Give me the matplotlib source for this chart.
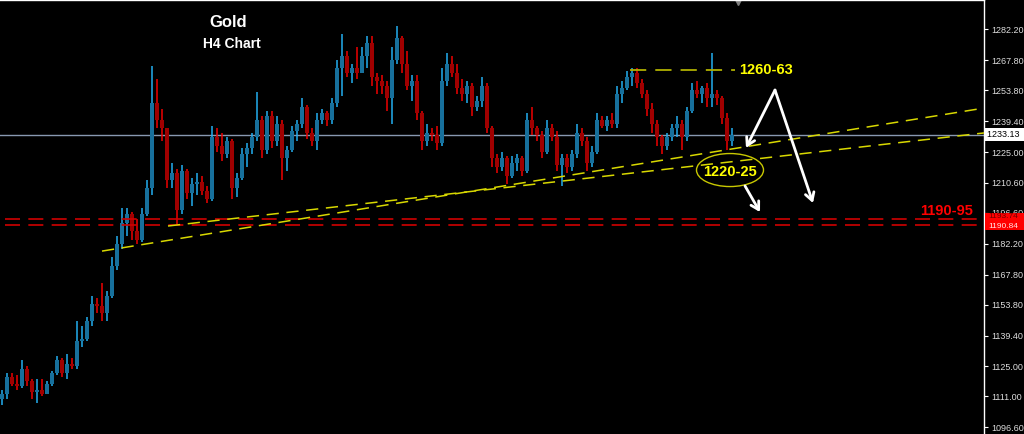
import numpy as np
import matplotlib.pyplot as plt
from matplotlib.patches import Ellipse, Rectangle

plt.rcParams['font.family'] = ['Liberation Sans', 'DejaVu Sans']

# --- Datos: velas H4 del oro (open = cierre anterior) ---
open0 = 1110
closes = [1112, 1120, 1117, 1116, 1124, 1118, 1113, 1114, 1112, 1117,
          1122, 1128, 1122, 1126, 1125, 1137, 1138, 1146, 1154, 1153,
          1150, 1158, 1172, 1182, 1192, 1196, 1188, 1184, 1196, 1208,
          1248, 1240, 1236, 1212, 1215, 1198, 1216, 1206, 1210, 1211,
          1207, 1203, 1232, 1228, 1224, 1230, 1208, 1213, 1224, 1227,
          1232, 1240, 1226, 1242, 1230, 1238, 1222, 1226, 1235, 1238,
          1246, 1234, 1230, 1240, 1243, 1240, 1248, 1264, 1270, 1262,
          1264, 1262, 1270, 1276, 1260, 1258, 1256, 1250, 1268, 1278,
          1266, 1256, 1258, 1243, 1230, 1234, 1233, 1229, 1258, 1266,
          1262, 1255, 1252, 1256, 1246, 1249, 1256, 1236, 1222, 1218,
          1222, 1214, 1220, 1222, 1216, 1240, 1236, 1233, 1225, 1236,
          1232, 1219, 1222, 1218, 1224, 1234, 1230, 1220, 1225, 1240,
          1237, 1240, 1238, 1252, 1255, 1260, 1262, 1257, 1252, 1245,
          1238, 1232, 1228, 1232, 1236, 1238, 1232, 1244, 1254, 1252,
          1255, 1250, 1252, 1250, 1241, 1230, 1233.13]
highs = [1114, 1122, 1122, 1121, 1128, 1125, 1119, 1119, 1119, 1118,
         1123, 1130, 1129, 1131, 1129, 1146, 1144, 1148, 1158, 1157,
         1164, 1160, 1176, 1186, 1199, 1199, 1197, 1194, 1199, 1212,
         1265, 1259, 1245, 1236, 1220, 1217, 1219, 1217, 1213, 1215,
         1214, 1209, 1237, 1236, 1234, 1232, 1231, 1215, 1227, 1229,
         1234, 1253, 1242, 1244, 1244, 1242, 1240, 1228, 1237, 1240,
         1250, 1247, 1236, 1243, 1245, 1244, 1250, 1268, 1280, 1272,
         1266, 1274, 1274, 1279, 1279, 1262, 1261, 1258, 1274, 1284,
         1279, 1272, 1261, 1261, 1244, 1238, 1236, 1237, 1264, 1271,
         1270, 1266, 1259, 1258, 1257, 1251, 1260, 1257, 1237, 1224,
         1225, 1223, 1223, 1224, 1223, 1243, 1246, 1237, 1235, 1240,
         1238, 1235, 1224, 1224, 1226, 1238, 1236, 1232, 1228, 1243,
         1242, 1242, 1243, 1256, 1258, 1263, 1264, 1264, 1259, 1254,
         1248, 1240, 1233, 1234, 1238, 1242, 1240, 1246, 1257, 1258,
         1256, 1257, 1271, 1254, 1251, 1243, 1236]
lows = [1107, 1110, 1116, 1114, 1115, 1116, 1110, 1108, 1111, 1112,
        1116, 1121, 1120, 1119, 1124, 1124, 1134, 1137, 1144, 1150,
        1146, 1146, 1157, 1170, 1180, 1186, 1184, 1182, 1183, 1195,
        1205, 1236, 1230, 1208, 1208, 1191, 1196, 1203, 1200, 1205,
        1205, 1201, 1202, 1225, 1221, 1222, 1203, 1204, 1212, 1218,
        1224, 1230, 1222, 1224, 1227, 1228, 1212, 1216, 1225, 1230,
        1236, 1231, 1228, 1226, 1238, 1237, 1238, 1246, 1251, 1260,
        1257, 1259, 1262, 1264, 1256, 1252, 1252, 1244, 1238, 1266,
        1262, 1254, 1249, 1240, 1226, 1228, 1230, 1226, 1228, 1256,
        1260, 1252, 1249, 1248, 1242, 1244, 1246, 1234, 1218, 1215,
        1216, 1210, 1213, 1216, 1214, 1215, 1233, 1230, 1222, 1224,
        1230, 1216, 1209, 1215, 1216, 1222, 1228, 1216, 1218, 1224,
        1236, 1235, 1236, 1236, 1248, 1254, 1256, 1255, 1250, 1242,
        1234, 1228, 1224, 1226, 1230, 1232, 1226, 1230, 1243, 1250,
        1248, 1246, 1246, 1247, 1238, 1226, 1228]

precio_actual = 1233.13
rojo_sup = 1193.74
rojo_inf = 1190.84
resistencia = 1263.2
ticks_y = [1282.20, 1267.80, 1253.80, 1239.40, 1225.00, 1210.60, 1196.60,
           1182.20, 1167.80, 1153.80, 1139.40, 1125.00, 1111.00, 1096.60]

# lineas de tendencia: (indice de vela, precio)
tend1_x, tend1_y = [20, 196.4], [1178.8, 1245.5]
tend2_x, tend2_y = [33.2, 196.4], [1190.5, 1233.9]
res_x = [125.6, 146.6]

# --- Velas ---
closes = np.array(closes)
highs = np.array(highs, dtype=float)
lows = np.array(lows, dtype=float)
opens = np.concatenate([[open0], closes[:-1]])
x = np.arange(len(closes))
highs = np.maximum(highs, np.maximum(opens, closes))
lows = np.minimum(lows, np.minimum(opens, closes))
sube = closes >= opens
baja = ~sube

fig = plt.figure(figsize=(10.24, 4.34), dpi=100, facecolor="black")
ax = fig.add_axes([0, 0, 984/1024, 1])
ax.set_facecolor("black")

ax.vlines(x[sube], lows[sube], highs[sube], color="#22aef0", lw=1.1, zorder=3)
ax.vlines(x[baja], lows[baja], highs[baja], color="#f00000", lw=1.1, zorder=3)
alto = np.maximum(np.abs(closes - opens), 0.4)
ax.bar(x[sube], alto[sube], bottom=opens[sube], width=0.75, color="#17709c", zorder=4)
ax.bar(x[baja], alto[baja], bottom=closes[baja], width=0.75, color="#a00000", zorder=4)

# --- Lineas horizontales ---
ax.axhline(precio_actual, color="#8898b0", lw=1, zorder=2)
ax.hlines([rojo_sup, rojo_inf], 0.6, 196.4, color="#d00000", lw=1.2,
          linestyles=[(0, (9, 5))], zorder=5)
ax.hlines(resistencia, res_x[0], res_x[1], color="#b0b000", lw=1.3,
          linestyles=[(0, (9, 5))], zorder=5)

# --- Tendencias ---
ax.plot(tend1_x, tend1_y, color="#d8d800", lw=1.1, ls=(0, (8, 5)), zorder=5)
ax.plot(tend2_x, tend2_y, color="#d8d800", lw=1.1, ls=(0, (8, 5)), zorder=5)

# --- Zona 1220-25 ---
ax.add_patch(Ellipse((145.6, 1216.6), 13.4, 15.4, fill=False,
                     edgecolor="#c8c800", lw=1, zorder=6))
ax.text(145.6, 1215.8, "1220-25", color="#ffff00", fontsize=10.5,
        fontweight="bold", ha="center", va="center", zorder=7)
ax.text(147.4, resistencia, "1260-63", color="#ffff00", fontsize=10.5,
        fontweight="bold", ha="left", va="center", zorder=7)
ax.text(183.6, 1197.4, "1190-95", color="#ff0000", fontsize=10.5,
        fontweight="bold", ha="left", va="center", zorder=7)

# --- Flechas ---
flecha = dict(arrowstyle="->,head_length=0.55,head_width=0.32", color="white",
              lw=2, shrinkA=0, shrinkB=0)
ax.annotate("", xy=(148.8, 1226.9), xytext=(154.6, 1253.9), arrowprops=flecha, zorder=8)
ax.annotate("", xy=(162.2, 1201.2), xytext=(154.6, 1253.9), arrowprops=flecha, zorder=8)
ax.annotate("", xy=(151.6, 1197.0), xytext=(148.6, 1209.2), arrowprops=flecha, zorder=8)

# --- Titulo ---
ax.text(45.2, 1285.2, "Gold", color="white", fontsize=12, fontweight="bold",
        ha="center", va="center")
ax.text(46.0, 1275.4, "H4 Chart", color="white", fontsize=10, fontweight="bold",
        ha="center", va="center")

# marcador de desplazamiento arriba
ax.plot(147.2, 1295.9, marker="v", color="#808080", markersize=7, clip_on=False)

ax.set_xlim(-0.4, 196.4)
ax.set_ylim(1093.5, 1295.9)
ax.set_xticks([])
ax.yaxis.tick_right()
ax.set_yticks(ticks_y)
ax.set_yticklabels([f"{t:.2f}" for t in ticks_y])
ax.tick_params(axis="y", colors="white", labelcolor="#dcdcdc", labelsize=6.5,
               length=3, width=0.8, pad=2)
for lado in ["left", "bottom"]:
    ax.spines[lado].set_visible(False)
for lado in ["top", "right"]:
    ax.spines[lado].set_color("white")
    ax.spines[lado].set_linewidth(1)

# etiquetas de precio en el eje
tr = ax.get_yaxis_transform()
ax.text(1.003, precio_actual, f"{precio_actual:.2f} ", transform=tr, fontsize=6.5,
        color="black", va="center", ha="left", clip_on=False, zorder=10,
        bbox=dict(boxstyle="square,pad=0.2", fc="white", ec="none"))
# bloque rojo con los dos niveles
ax.add_patch(Rectangle((1.001, rojo_inf - 2.2), 0.045, 8.1, transform=tr,
                       fc="#ff0000", ec="none", clip_on=False, zorder=9))
ax.text(1.004, rojo_sup + 1.3, f"{rojo_sup:.2f}", transform=tr, fontsize=6,
        color="#700000", va="center", ha="left", clip_on=False, zorder=10)
ax.text(1.004, rojo_inf - 0.4, f"{rojo_inf:.2f}", transform=tr, fontsize=6,
        color="#ffe4e4", va="center", ha="left", clip_on=False, zorder=10)

plt.savefig("out.png", dpi=100, facecolor="black")
